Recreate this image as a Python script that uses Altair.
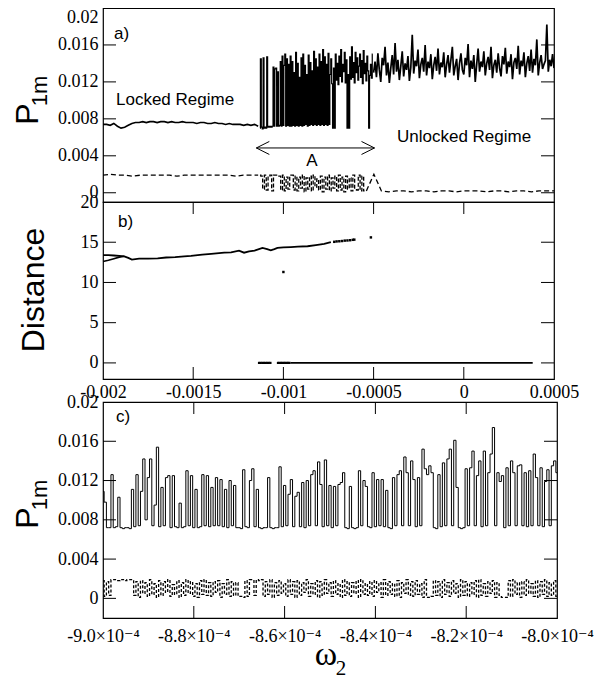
import altair as alt
import pandas as pd

U = 1e-4  # P1m values below are listed in units of 1e-4
SERIF = "Liberation Serif, Times New Roman, DejaVu Serif, serif"
SANS = "Liberation Sans, Arial, DejaVu Sans, sans-serif"

# ---------------- panel a : P1m vs omega2 ----------------
a_lock_range = (-0.002, -0.00114)
a_lock_p = [74,74,73,75,72,70,71,73,75,76,76,77,76,77,77,76,77,77,76,77,76,76,77,76,76,76,75,76,76,75,75,76,75,75,74,75,74,74,74,73,74,73,74,72]

a_mid_range = (-0.00113, -0.000505)
a_mid_p = [70,145,71,69,146,70,71,70,147,71,72,71,72,71,72,136,72,134,135,72,131,72,73,142,72,148,73,138,150,72,145,73,139,72,
           148,72,142,73,130,72,152,73,140,72,125,73,146,72,150,73,138,74,128,72,149,73,141,74,132,73,153,74,145,73,136,74,150,73,142,74,155,73,147,74,139,73,151,74,
           128,145,118,70,135,70,150,122,140,117,148,126,155,120,139,131,152,119,144,70,128,70,147,123,158,125,141,119,152,130,146,122,137,150,125,143,118,154,129,140,121,148,132,70,127,139,124,150]

a_un_range = (-0.0005, 0.0005)
a_un_p = [130,142,125,151,133,120,146,138,158,127,141,119,135,149,128,162,131,144,122,137,153,126,140,133,148,121,136,171,129,143,
          137,155,124,139,146,131,160,127,142,135,150,123,138,147,132,156,128,141,136,152,125,139,149,130,144,158,127,137,145,122,
          140,151,133,128,146,138,161,125,143,134,149,120,139,156,131,142,136,153,127,140,147,133,158,124,138,144,130,151,135,126,
          148,139,157,129,142,136,150,123,141,146,134,159,128,143,137,152,125,140,148,132,155,130,145,138,166,127,141,149,134,139,
          143,182,131,144,137,150,135]

a_low_lock_range = (-0.002, -0.00114)
a_low_lock_p = [19,20,19,19,18,19,19,19,19,19,18,19,19,19,19,19,19,19,18,19,19,19]
a_low_mid_range = (-0.00113, -0.00055)
a_low_mid_p = [19,18,4,19,3,18,19,2,19,19,19,18,3,19,2,17,4,19,19,3,18,2,17,5,19,1,16,4,18,2,
               19,6,15,3,18,1,17,4,19,2,16,5,18,2,19,3,17,1,18,4,16,2,19,5,3,19,2,18,2]
a_low_un_range = (-0.00054, 0.0005)
a_low_un_p = [2,20,2,1,2,2,1,2,2,1,2,2,1,2,2,2,1,2,2,1,2,2,1,2,2,2]

# ---------------- panel b : Distance (omega in units of 1e-6) ----------------
b_main_w = [-2000,-1970,-1940,-1910,-1882,-1860,-1840,-1800,-1750,-1697,-1650,-1600,-1550,-1512,-1450,-1400,-1328,-1290,
            -1246,-1218,-1190,-1160,-1116,-1090,-1070,-1050,-1033,-1000,-959,-920,-866,-820,-774,-737]
b_main_d = [13.4,13.4,13.35,13.3,13.25,13.05,12.85,12.95,12.95,13.0,13.1,13.15,13.25,13.3,13.45,13.55,13.7,13.75,
            13.95,13.7,13.85,13.95,14.3,14.15,14.0,14.15,14.3,14.35,14.4,14.45,14.5,14.65,14.8,15.0]
b_branch_w = [-2000,-1970,-1940,-1910,-1882]
b_branch_d = [12.6,12.75,12.95,13.15,13.25]
b_dots_w = [-718,-705,-690,-675,-660,-645,-630,-615,-607,-515,-1000]
b_dots_d = [15.05,15.1,15.12,15.15,15.2,15.22,15.25,15.3,15.32,15.6,11.3]
b_zero_w = [-960, 382]
b_zero_d = [0, 0]
b_zero_dots_w = [-1135,-1126,-1117,-1108,-1099,-1090,-1081,-1072,-1030,-1022,-1014,-1006,-998,-990,-982,-974,-966]

# ---------------- panel c : zoom of region A ----------------
c_range = (-0.0009, -0.0008)
c_p = [109,98,72,72,126,72,73,103,72,71, 72,72,71,111,73,126,74,109,142,80,
       123,142,74,95,154,73,113,74,123,125, 72,125,73,72,97,72,73,130,74,125,
       72,111,72,73,126,74,125,73,113,74, 123,74,121,73,111,72,120,74,115,72,
       72,71,131,73,72,120,132,73,111,72, 71,72,72,123,72,71,72,72,134,73,
       115,74,106,121,73,104,108,73,118,72, 120,74,126,130,74,139,116,73,141,74,
       115,72,114,74,116,118,128,72,71,114, 72,71,72,130,74,120,114,73,72,128,
       73,121,74,121,73,110,72,71,123,74, 126,130,74,144,128,74,140,121,73,123,
       74,152,132,126,135,128,72,71,126,73, 138,74,142,152,74,161,113,72,71,72,
       132,74,133,150,74,125,140,73,150,74, 128,147,174,74,128,119,125,72,133,74,
       140,128,74,135,136,74,128,73,130,74, 147,123,74,133,73,119,131,74,135,140,
       128]
c_low_p = [18,2,17,3,19, 19,19,18,19, 19,18,19,19,19,
           3,17,1,18,5,16,2,19,4,15, 1,18,3,17,6,19,2,14,4,18, 1,16,3,19,5,17,2,15,1,18, 4,19,3,16,2,17,6,18,1,15, 4,19,2,17,3,16,
           2,2,1,
           18,2,19,19,3,19,18,19,
           2,17,4,19,1,16,3,18,5,15, 2,19,4,17,1,18,3,16,6,19, 2,15,4,18,1,17,3,19,5,16, 2,18,4,15,1,19,3,17,2,16,
           5,18,1,19,4,15,3,17,2,18, 6,16,1,19,3,17,4,15,2,18, 1,16,5,19,3,17,2,18,4,15, 1,19,
           1,1,2,
           18,3,17,1,19,4,16,2,18,5, 15,1,19,3,17,2,16,4,18,1, 19,3,15,2,17,5,18,1,16,3,
           1,1,1,
           18,2,19,4,16,1,17,3,19,5, 15,2,18,1,17,4,19,2,16,3, 18,2]

# ---------------- ticks / labels ----------------
ab_domain = [-0.002, 0.0005]
ab_labels = [-0.002, -0.0015, -0.001, -0.0005, 0, 0.0005]
ab_ticks = [-0.0015, -0.001, -0.0005, 0]
p_labels = [0, 0.004, 0.008, 0.012, 0.016, 0.02]
p_ticks = [0, 0.004, 0.008, 0.012, 0.016]
b_labels = [0, 5, 10, 15, 20]
b_ticks = [0, 5, 10, 15]
c_labels = [-0.0009, -0.00088, -0.00086, -0.00084, -0.00082, -0.0008]
c_label_text = ["-9.0×10⁻⁴", "-8.8×10⁻⁴", "-8.6×10⁻⁴", "-8.4×10⁻⁴", "-8.2×10⁻⁴", "-8.0×10⁻⁴"]
c_ticks = [-0.00088, -0.00086, -0.00084, -0.00082]

W_AB, H_A, H_B = 451, 194, 177
W_C, H_C = 454, 216
TICK = 12


def grid(rng, vals, scale=1.0, seg=0):
    x0, x1 = rng
    n = len(vals)
    return pd.DataFrame({"x": [x0 + (x1 - x0) * i / (n - 1) for i in range(n)],
                         "y": [v * scale for v in vals], "seg": seg})


def yaxis(values, flush=False):
    return alt.Axis(values=values, labelExpr="toString(datum.value)", ticks=False, domain=False,
                    grid=False, labelFont=SERIF, labelFontSize=18, labelColor="black",
                    labelPadding=5, title=None, labelFlush=flush, labelOverlap=False)


one = pd.DataFrame({"z": [0]})


def txt(s, x, y, size, font=SANS, angle=0, align="left", baseline="middle"):
    return alt.Chart(one).mark_text(text=s, fontSize=size, font=font, angle=angle, align=align,
                                    baseline=baseline, color="black").encode(x=alt.value(x), y=alt.value(y))


def ticks_y(vals, Y, W):
    d = pd.DataFrame({"y": vals})
    l = alt.Chart(d).mark_rule(color="black", strokeWidth=1).encode(y=Y, x=alt.value(0), x2=alt.value(TICK + 1))
    r = alt.Chart(d).mark_rule(color="black", strokeWidth=1).encode(y=Y, x=alt.value(W - TICK - 1), x2=alt.value(W))
    return [l, r]


def ticks_x(vals, X, H):
    d = pd.DataFrame({"x": vals})
    t = alt.Chart(d).mark_rule(color="black", strokeWidth=1).encode(x=X, y=alt.value(0), y2=alt.value(TICK))
    b = alt.Chart(d).mark_rule(color="black", strokeWidth=1).encode(x=X, y=alt.value(H - TICK), y2=alt.value(H))
    return [t, b]


# ---------- panel a ----------
Xa = alt.X("x:Q", scale=alt.Scale(domain=ab_domain, nice=False, zero=False), axis=None)
Ya = alt.Y("y:Q", scale=alt.Scale(domain=[-0.001, 0.02], nice=False, zero=False), axis=yaxis(p_labels, True))

a_lock = grid(a_lock_range, a_lock_p, U, 0)
a_un = grid(a_un_range, a_un_p, U, 1)
a_spiky = grid(a_mid_range, a_mid_p, U)
a_low_smooth = pd.concat([grid(a_low_lock_range, a_low_lock_p, U, 0), grid(a_low_un_range, a_low_un_p, U, 2)])
a_low_spiky = grid(a_low_mid_range, a_low_mid_p, U)

arrow_x = [-0.00115, -0.000495]
arrow_y = [0.00485, 0.00485]
arrow = pd.DataFrame({"x": arrow_x, "y": arrow_y})

a_layers = [
    alt.Chart(a_lock).mark_line(color="black", strokeWidth=1.6, clip=True).encode(x=Xa, y=Ya),
    alt.Chart(a_un).mark_line(color="black", strokeWidth=1.7, clip=True).encode(x=Xa, y=Ya),
    alt.Chart(a_spiky).mark_line(color="black", strokeWidth=1.2, interpolate="step", clip=True).encode(x=Xa, y=Ya),
    alt.Chart(a_low_smooth).mark_line(color="black", strokeWidth=1.3, strokeDash=[5, 3], clip=True).encode(x=Xa, y=Ya, detail="seg:N"),
    alt.Chart(a_low_spiky).mark_line(color="black", strokeWidth=1.3, strokeDash=[4, 2], interpolate="step", clip=True).encode(x=Xa, y=Ya),
    alt.Chart(arrow).mark_line(color="black", strokeWidth=1).encode(x=Xa, y=Ya),
    alt.Chart(arrow.iloc[[0]]).mark_point(shape="M 1 -0.5 L 0 0 L 1 0.5", size=676, filled=False, color="black", strokeWidth=1, opacity=1).encode(x=Xa, y=Ya),
    alt.Chart(arrow.iloc[[1]]).mark_point(shape="M -1 -0.5 L 0 0 L -1 0.5", size=676, filled=False, color="black", strokeWidth=1, opacity=1).encode(x=Xa, y=Ya),
    *ticks_y(p_ticks, Ya, W_AB),
    txt("a)", 11, 26, 17),
    txt("Locked Regime", 13, 97, 17, baseline="alphabetic"),
    txt("Unlocked Regime", 294, 134, 17, baseline="alphabetic"),
    txt("A", 209, 158, 17, align="center", baseline="alphabetic"),
    txt("P", -75, 106, 32, angle=270, align="center"),
    txt("1m", -63, 83, 22, angle=270, align="center"),
]
panel_a = alt.layer(*a_layers).properties(width=W_AB, height=H_A)

# ---------- panel b ----------
Xb = alt.X("x:Q", scale=alt.Scale(domain=ab_domain, nice=False, zero=False),
           axis=alt.Axis(values=ab_labels, labelExpr="toString(datum.value)", ticks=False, domain=False, grid=False,
                         labelFont=SERIF, labelFontSize=18, labelColor="black", labelPadding=4, title=None,
                         labelOverlap=False, labelFlush=False))
Yb = alt.Y("y:Q", scale=alt.Scale(domain=[-2, 20], nice=False, zero=False), axis=yaxis(b_labels))

MU = 1e-6
b_main = pd.DataFrame({"x": [w * MU for w in b_main_w], "y": b_main_d})
b_branch = pd.DataFrame({"x": [w * MU for w in b_branch_w], "y": b_branch_d})
b_dots = pd.DataFrame({"x": [w * MU for w in b_dots_w], "y": b_dots_d})
b_zero = pd.DataFrame({"x": [w * MU for w in b_zero_w], "y": b_zero_d})
b_zdots = pd.DataFrame({"x": [w * MU for w in b_zero_dots_w], "y": [0] * len(b_zero_dots_w)})

b_layers = [
    alt.Chart(b_main).mark_line(color="black", strokeWidth=1.8).encode(x=Xb, y=Yb),
    alt.Chart(b_branch).mark_line(color="black", strokeWidth=1.6).encode(x=Xb, y=Yb),
    alt.Chart(b_dots).mark_square(color="black", size=6, opacity=1).encode(x=Xb, y=Yb),
    alt.Chart(b_zero).mark_line(color="black", strokeWidth=1.8).encode(x=Xb, y=Yb),
    alt.Chart(b_zdots).mark_square(color="black", size=5, opacity=1).encode(x=Xb, y=Yb),
    *ticks_y(b_ticks, Yb, W_AB),
    *ticks_x(ab_ticks, Xb, H_B),
    txt("b)", 15, 20, 17),
    txt("Distance", -69, 88, 32, angle=270, align="center"),
]
panel_b = alt.layer(*b_layers).properties(width=W_AB, height=H_B)

# ---------- spacer ----------
spacer = alt.Chart(one).mark_point(opacity=0).encode(x=alt.value(0), y=alt.value(0)).properties(
    width=W_AB, height=23, view=alt.ViewBackground(strokeOpacity=0))

# ---------- panel c ----------
expr = "''"
for v, t in reversed(list(zip(c_labels, c_label_text))):
    expr = f"abs(datum.value - ({v})) < 1e-9 ? '{t}' : ({expr})"

Xc = alt.X("x:Q", scale=alt.Scale(domain=list(c_range), nice=False, zero=False),
           axis=alt.Axis(values=c_labels, labelExpr=expr, ticks=False, domain=False, grid=False,
                         labelFont=SERIF, labelFontSize=18, labelColor="black", labelPadding=9, title=None,
                         labelOverlap=False, labelFlush=False))
Yc = alt.Y("y:Q", scale=alt.Scale(domain=[-0.002, 0.02], nice=False, zero=False), axis=yaxis(p_labels))

c_main = grid(c_range, c_p, U)
c_low = grid(c_range, c_low_p, U)

c_layers = [
    alt.Chart(c_main).mark_line(color="black", strokeWidth=1.0, interpolate="step", clip=True).encode(x=Xc, y=Yc),
    alt.Chart(c_low).mark_line(color="black", strokeWidth=1.3, strokeDash=[3, 2], interpolate="step", clip=True).encode(x=Xc, y=Yc),
    *ticks_y(p_ticks, Yc, W_C),
    *ticks_x(c_ticks, Xc, H_C),
    txt("c)", 13, 15, 17),
    txt("P", -75, 116, 32, angle=270, align="center"),
    txt("1m", -63, 93, 22, angle=270, align="center"),
    txt("ω", 223, 253, 34, font=SERIF, align="center"),
    txt("2", 238, 267, 21, font=SERIF, align="center"),
]
panel_c = alt.layer(*c_layers).properties(width=W_C, height=H_C)

chart = alt.vconcat(panel_a, panel_b, spacer, panel_c, spacing=0, bounds="flush").properties(
    padding={"left": 3, "top": -1, "right": 5, "bottom": 2}
).configure_view(stroke="black", strokeWidth=1.2)

chart.save("out.html", embed_options={"renderer": "svg", "actions": False})
